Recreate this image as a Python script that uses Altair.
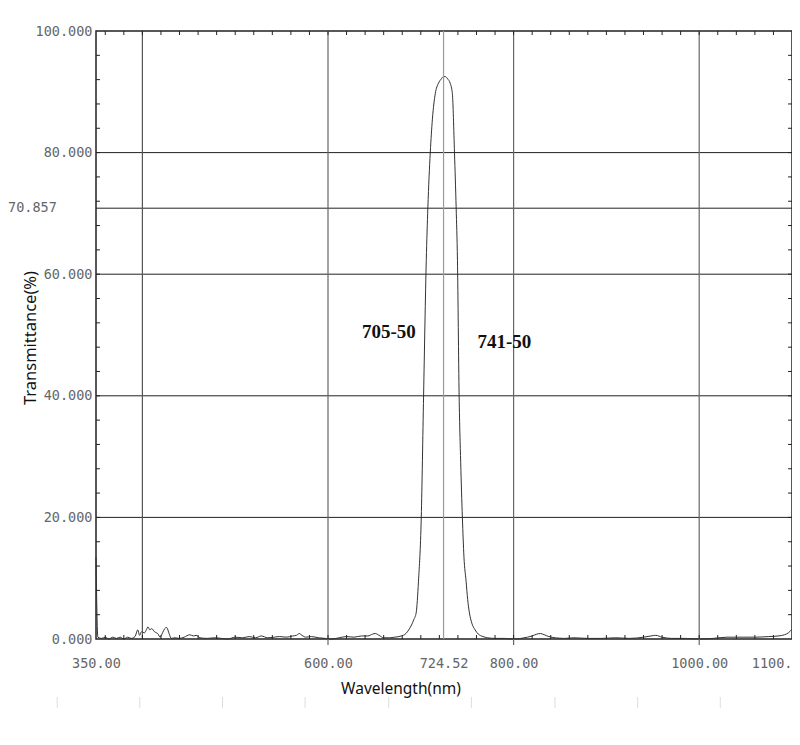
import altair as alt
import pandas as pd

# ---- spectrum ----
wavelength = [350, 352, 356, 360, 364, 368, 372, 376, 380, 384, 388, 392, 395, 397, 399,
              402, 404, 406, 408, 410, 413, 417, 419, 422, 424, 426, 429, 431, 435, 440,
              445, 451, 455, 458, 462, 470, 478, 485, 492, 500, 508, 515, 522, 528, 535,
              542, 548, 555, 562, 566, 569, 572, 576, 582, 590, 597, 604, 612, 620, 628,
              636, 643, 648, 651, 655, 660, 666, 672, 679, 684, 687, 690, 692.5, 695, 697.5,
              700.5, 703, 705.9, 707.6, 710.2, 712.5, 715.6, 719, 722, 724.5, 726.5, 729,
              731.7, 734, 736.3, 738.1, 739.5, 741.3, 743, 744.8, 746.5, 748.8, 750.5, 752.4,
              755, 758.5, 762, 767, 772, 780, 790, 800, 808, 815, 820, 825, 829, 833, 838,
              845, 855, 865, 880, 895, 910, 925, 940, 948, 953, 960, 970, 985, 1000, 1015,
              1030, 1045, 1060, 1075, 1085, 1092, 1096, 1100]
transmittance = [13.5, 0.3, 0.1, 0.3, 0.0, 0.3, 0.1, 0.3, 0.0, 0.3, 0.1, 0.4, 1.5, 0.6, 1.2,
                 1.0, 1.4, 2.0, 1.5, 1.7, 1.2, 0.8, 0.3, 1.1, 1.7, 1.9, 0.8, 0.1, 0.2, 0.1,
                 0.3, 0.7, 0.5, 0.6, 0.2, 0.1, 0.2, 0.1, 0.0, 0.3, 0.2, 0.4, 0.2, 0.5, 0.2,
                 0.3, 0.4, 0.3, 0.5, 0.6, 0.9, 0.6, 0.3, 0.4, 0.2, 0.1, 0.0, 0.2, 0.4, 0.3,
                 0.5, 0.5, 0.8, 0.9, 0.6, 0.2, 0.2, 0.3, 0.5, 0.9, 1.5, 2.3, 3.2, 4.3, 9.5,
                 20.0, 40.0, 62.3, 70.9, 80.0, 85.5, 89.7, 91.4, 92.1, 92.5, 92.5, 92.1,
                 91.4, 89.7, 80.0, 70.9, 62.3, 40.0, 29.0, 20.0, 13.5, 9.5, 6.5, 4.3,
                 2.6, 1.5, 0.8, 0.4, 0.2, 0.1, 0.1, 0.0, 0.1, 0.3, 0.5, 0.8, 0.9, 0.7, 0.4,
                 0.2, 0.1, 0.2, 0.1, 0.1, 0.2, 0.1, 0.3, 0.5, 0.6, 0.3, 0.1, 0.1, 0.0, 0.1,
                 0.3, 0.3, 0.3, 0.4, 0.5, 0.7, 1.0, 1.6]

# ---- axis values, grid lines, annotations ----
x_tick_values = [350, 600, 724.52, 800, 1000, 1100]
y_tick_values = [0, 20, 40, 60, 80, 100]
h_grid = [20, 40, 60, 70.857, 80]
v_grid_long = [600, 800, 1000]
v_grid_dark = [400]
v_grid_center = [724.52]
marker_value = [70.857]
x_minor = list(range(360, 1100, 20))
y_minor = list(range(4, 100, 4))
annotation_text = ["705-50", "741-50"]
annotation_x = [665.5, 790]
annotation_y = [50.5, 48.8]
faint_marks = [308.2, 397.2, 486.3, 575.3, 665.5, 754.5, 844.6, 933.7, 1022.7]

W, H = 696, 608
LABEL_FONT = "DejaVu Sans Mono"
LABEL_SIZE = 13.5
LABEL_COLOR = "#666666"

xs = alt.Scale(domain=[350, 1100], nice=False, zero=False)
ys = alt.Scale(domain=[0, 100], nice=False)

df = pd.DataFrame({"wl": wavelength, "t": transmittance})

curve = alt.Chart(df).mark_line(color="#333333", strokeWidth=1, interpolate="monotone").encode(
    x=alt.X("wl:Q", scale=xs, title=None,
            axis=alt.Axis(values=x_tick_values, title=None, grid=False,
                          labelExpr="datum.value >= 1100 ? '1100.' : format(datum.value, '.2f')",
                          labelAlign=alt.condition("datum.value >= 1100", alt.value("right"), alt.value("center")),
                          domain=False, ticks=False, labelFlush=False, labelOverlap=False,
                          labelPadding=17, labelFont=LABEL_FONT, labelFontSize=LABEL_SIZE,
                          labelColor=LABEL_COLOR)),
    y=alt.Y("t:Q", scale=ys, title=None,
            axis=alt.Axis(values=y_tick_values, format=".3f", title=None, grid=False,
                          domain=False, ticks=False, labelOverlap=False, labelPadding=4,
                          labelFont=LABEL_FONT, labelFontSize=LABEL_SIZE, labelColor=LABEL_COLOR)),
)

hgrid = alt.Chart(pd.DataFrame({"v": h_grid})).mark_rule(color="#222222", strokeWidth=1).encode(
    y=alt.Y("v:Q", scale=ys, title=None))

vlong = alt.Chart(pd.DataFrame({"v": v_grid_long})).mark_rule(color="#666666", strokeWidth=1.2).encode(
    x=alt.X("v:Q", scale=xs, title=None), y=alt.value(0), y2=alt.value(H + 6))

vdark = alt.Chart(pd.DataFrame({"v": v_grid_dark})).mark_rule(color="#555555", strokeWidth=1.2).encode(
    x=alt.X("v:Q", scale=xs, title=None), y=alt.value(0), y2=alt.value(H))

vcenter = alt.Chart(pd.DataFrame({"v": v_grid_center})).mark_rule(color="#9a9a9a", strokeWidth=1.2).encode(
    x=alt.X("v:Q", scale=xs, title=None), y=alt.value(0), y2=alt.value(H))

xminor_df = pd.DataFrame({"v": x_minor})
yminor_df = pd.DataFrame({"v": y_minor})
tick_top = alt.Chart(xminor_df).mark_rule(color="#222222").encode(
    x=alt.X("v:Q", scale=xs, title=None), y=alt.value(0), y2=alt.value(4))
tick_bottom = alt.Chart(xminor_df).mark_rule(color="#222222").encode(
    x=alt.X("v:Q", scale=xs, title=None), y=alt.value(H), y2=alt.value(H - 4))
tick_left = alt.Chart(yminor_df).mark_rule(color="#222222").encode(
    y=alt.Y("v:Q", scale=ys, title=None), x=alt.value(0), x2=alt.value(4))
tick_right = alt.Chart(yminor_df).mark_rule(color="#222222").encode(
    y=alt.Y("v:Q", scale=ys, title=None), x=alt.value(W), x2=alt.value(W - 4))

marker_label = alt.Chart(pd.DataFrame({"v": marker_value})).mark_text(
    align="left", baseline="middle", font=LABEL_FONT, fontSize=LABEL_SIZE, color=LABEL_COLOR
).encode(y=alt.Y("v:Q", scale=ys, title=None), x=alt.value(-88),
         text=alt.Text("v:Q", format=".3f"))

annotations = alt.Chart(pd.DataFrame({"x": annotation_x, "y": annotation_y, "label": annotation_text})).mark_text(
    align="center", baseline="middle", font="Liberation Serif", fontSize=19, fontWeight="bold", color="#111111"
).encode(x=alt.X("x:Q", scale=xs, title=None), y=alt.Y("y:Q", scale=ys, title=None), text="label:N")

x_title = alt.Chart(pd.DataFrame({"t": ["Wavelength(nm)"]})).mark_text(
    align="center", baseline="middle", font="Noto Sans", fontSize=15.5, color="#111111"
).encode(text="t:N", x=alt.value(305), y=alt.value(658))

y_title = alt.Chart(pd.DataFrame({"t": ["Transmittance(%)"]})).mark_text(
    align="center", baseline="middle", font="Noto Sans", fontSize=16.5, color="#111111", angle=270
).encode(text="t:N", x=alt.value(-65), y=alt.value(307))

faint = alt.Chart(pd.DataFrame({"v": faint_marks})).mark_rule(color="#dddddd", strokeWidth=1).encode(
    x=alt.X("v:Q", scale=xs, title=None), y=alt.value(666), y2=alt.value(677))

chart = alt.layer(
    curve, hgrid, vlong, vdark, vcenter, tick_top, tick_bottom, tick_left, tick_right,
    marker_label, annotations, x_title, y_title, faint
).properties(
    width=W, height=H,
    autosize=alt.AutoSizeParams(type="none"),
    padding={"left": 88, "top": 23, "right": 0, "bottom": 80},
).configure_view(stroke="#222222", strokeWidth=1.5)

chart.save("out.html", embed_options={"renderer": "svg", "actions": False})
